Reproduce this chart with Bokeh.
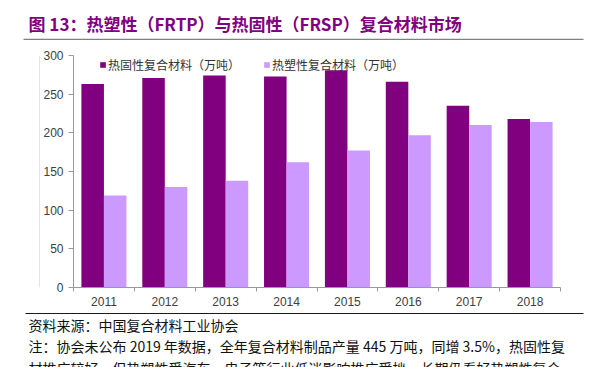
from bokeh.plotting import figure
from bokeh.layouts import column, row
from bokeh.models import (ColumnDataSource, Range1d, FixedTicker, Legend, LegendItem)
from bokeh.core.properties import value
from bokeh.transform import dodge
from bokeh.embed import file_html
from bokeh.resources import INLINE

years = ["2011", "2012", "2013", "2014", "2015", "2016", "2017", "2018"]
thermoset = [263, 271, 274, 273, 281, 266, 235, 218]
thermoplastic = [119, 130, 138, 162, 177, 197, 210, 214]
y_ticks = [0, 50, 100, 150, 200, 250, 300]

title_text = "图 13：热塑性（FRTP）与热固性（FRSP）复合材料市场"
source_text = "资料来源：中国复合材料工业协会"
note_line1 = "注：协会未公布 2019 年数据，全年复合材料制品产量 445 万吨，同增 3.5%，热固性复"
note_line2 = "材推广较好，但热塑性受汽车、电子等行业低迷影响推广受挫，长期仍看好热塑性复合"

DARK = "#800080"
LIGHT = "#CC99FF"
AXIS = "#999999"
CJK = "Noto Sans CJK SC"
W = 595


def blank(width, height):
    f = figure(width=width, height=height, output_backend="svg", toolbar_location=None,
               title=None, x_axis_type=None, y_axis_type=None,
               x_range=Range1d(0, width), y_range=Range1d(height, 0),
               min_border=0, min_border_left=0, min_border_right=0,
               min_border_top=0, min_border_bottom=0)
    f.outline_line_color = None
    f.grid.visible = False
    return f


# ---- header: title + rule
H_H = 40
head = blank(W, H_H)
head.text(x=[28], y=[23], text=[title_text], text_font=value(CJK), text_font_style="bold",
          text_font_size="17px", text_color=DARK, text_baseline="middle")
head.segment(x0=[23], y0=[39], x1=[583], y1=[39], line_color="#808080", line_width=1.5)

# ---- main chart
M_H = 270
strip = blank(40, M_H)
strip.segment(x0=[39.5], y0=[0], x1=[39.5], y1=[M_H], line_color="#c8c8c8", line_width=1)

pos = [i + 0.5 for i in range(len(years))]
src = ColumnDataSource(dict(x=pos, year=years, a=thermoset, b=thermoplastic))

p = figure(width=W - 40, height=M_H, output_backend="svg", toolbar_location=None,
           title=None, x_range=Range1d(0, len(years)), y_range=Range1d(0, 300),
           min_border_left=33, min_border_right=35, min_border_top=15, min_border_bottom=23)
p.outline_line_color = None
p.grid.visible = False

r1 = p.vbar(x=dodge("x", -0.185, range=p.x_range), top="a", width=0.37, source=src,
            fill_color=DARK, line_color=None)
r2 = p.vbar(x=dodge("x", 0.185, range=p.x_range), top="b", width=0.37, source=src,
            fill_color=LIGHT, line_color=None)

xa = p.xaxis[0]
xa.ticker = FixedTicker(ticks=pos, minor_ticks=list(range(len(years) + 1)))
xa.major_label_overrides = {x: y for x, y in zip(pos, years)}
xa.major_tick_line_color = None
xa.major_tick_out = 0
xa.major_tick_in = 0
xa.minor_tick_line_color = AXIS
xa.minor_tick_out = 4
xa.minor_tick_in = 0
xa.axis_line_color = AXIS
xa.major_label_standoff = 5
xa.major_label_text_font = "Liberation Sans"
xa.major_label_text_font_size = "12px"
xa.major_label_text_color = "#404040"

ya = p.yaxis[0]
ya.ticker = FixedTicker(ticks=y_ticks)
ya.minor_tick_line_color = None
ya.major_tick_line_color = AXIS
ya.major_tick_out = 5
ya.major_tick_in = 0
ya.axis_line_color = AXIS
ya.major_label_standoff = 5
ya.major_label_text_font = "Liberation Sans"
ya.major_label_text_font_size = "12px"
ya.major_label_text_color = "#404040"

legend = Legend(items=[LegendItem(label="热固性复合材料（万吨）", renderers=[r1]),
                       LegendItem(label="热塑性复合材料（万吨）", renderers=[r2])],
                orientation="horizontal", location=(26, 214),
                glyph_width=7, glyph_height=7, label_standoff=2, spacing=23,
                padding=0, margin=0, label_height=16,
                label_text_font=CJK, label_text_font_size="12px",
                label_text_color="#333333", label_text_baseline="middle",
                background_fill_alpha=0, border_line_color=None)
p.add_layout(legend, "center")

# ---- footer: rule + notes
F_H = 367 - H_H - M_H
foot = blank(W, F_H)
foot.segment(x0=[25], y0=[3], x1=[583], y1=[3], line_color="#1a1a1a", line_width=1)
foot.text(x=[28, 28, 28], y=[14, 35, 57], text=[source_text, note_line1, note_line2],
          text_font=value(CJK), text_font_size="14px", text_color="#111111",
          text_baseline="middle")

layout = column(head, row(strip, p), foot)
open("out.html", "w").write(file_html(layout, INLINE))
